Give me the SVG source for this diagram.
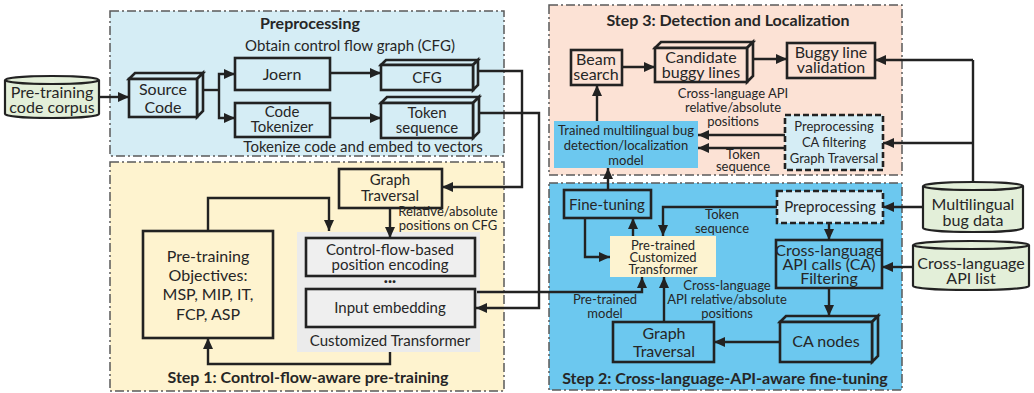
<svg xmlns="http://www.w3.org/2000/svg" width="1034" height="393" viewBox="0 0 1034 393">
  <style>
    text { font-family: Lato, "Open Sans", sans-serif; fill: #262626; text-anchor: middle; }
    .t16 { font-size: 16px; }
    .t15 { font-size: 15px; }
    .t13 { font-size: 13px; }
    .title { font-size: 16px; font-weight: bold; }
    .panel { stroke: #5a5a5a; stroke-width: 1.5; stroke-dasharray: 9 3 2 3; }
    .box { stroke: #222; stroke-width: 2.6; }
    .dash { stroke: #222; stroke-width: 2.6; stroke-dasharray: 6 3; fill: #d5edf5; }
    .cyl { fill: #e3efd9; stroke: #222; stroke-width: 2.2; }
    .wire { fill: none; stroke: #222; stroke-width: 2.4; }
    .arr { marker-end: url(#ah); }
  </style>
  <defs>
    <marker id="ah" markerUnits="userSpaceOnUse" markerWidth="12" markerHeight="10" refX="11" refY="5" orient="auto">
      <path d="M0,0 L11,5 L0,10 Z" fill="#222"/>
    </marker>
  </defs>

  <!-- panels -->
  <g id="panel-preprocessing">
    <rect class="panel" x="110" y="11" width="394" height="145" fill="#d5edf5"/>
    <text class="title" x="310" y="29">Preprocessing</text>
    <text class="t15" x="350" y="51">Obtain control flow graph (CFG)</text>
    <text class="t15" x="363" y="152">Tokenize code and embed to vectors</text>
  </g>
  <g id="panel-step1">
    <rect class="panel" x="110" y="162" width="394" height="229" fill="#fef3cf"/>
    <text class="title" x="308" y="383">Step 1:  Control-flow-aware pre-training</text>
  </g>
  <g id="panel-step3">
    <rect class="panel" x="549" y="5" width="353" height="170" fill="#fce2d5"/>
    <text class="title" x="728" y="26">Step 3: Detection and Localization</text>
  </g>
  <g id="panel-step2">
    <rect class="panel" x="549" y="183" width="353" height="207" fill="#6cc8ef"/>
    <text class="title" x="725" y="384">Step 2:  Cross-language-API-aware fine-tuning</text>
  </g>

  <!-- data sources -->
  <g id="pretraining-corpus">
    <path class="cyl" d="M5,80 L5,114 A47,4 0 0 0 99,114 L99,80"/>
    <ellipse class="cyl" cx="52" cy="80" rx="47" ry="4"/>
    <text class="t16" x="52" y="98">Pre-training</text>
    <text class="t16" x="52" y="113">code corpus</text>
  </g>
  <g id="multilingual-bug-data">
    <path class="cyl" d="M923,186 L923,228 A50,4 0 0 0 1023,228 L1023,186"/>
    <ellipse class="cyl" cx="973" cy="186" rx="50" ry="4"/>
    <text class="t16" x="973" y="210">Multilingual</text>
    <text class="t16" x="973" y="226">bug data</text>
  </g>
  <g id="cross-language-api-list">
    <path class="cyl" d="M913,245 L913,286 A58,4 0 0 0 1029,286 L1029,245"/>
    <ellipse class="cyl" cx="971" cy="245" rx="58" ry="4"/>
    <text class="t16" x="971" y="269">Cross-language</text>
    <text class="t16" x="971" y="284">API list</text>
  </g>

  <!-- preprocessing nodes -->
  <g id="source-code">
    <polygon class="box" fill="#d5edf5" points="129,79 135,73 203,73 197,79"/>
    <polygon class="box" fill="#d5edf5" points="197,79 203,73 203,111 197,117"/>
    <rect class="box" fill="#d5edf5" x="129" y="79" width="68" height="38"/>
    <text class="t16" x="163" y="95">Source</text>
    <text class="t16" x="163" y="113">Code</text>
  </g>
  <g id="joern">
    <rect class="box" fill="#d5edf5" x="235" y="58" width="95" height="32"/>
    <text class="t16" x="282" y="80">Joern</text>
  </g>
  <g id="code-tokenizer">
    <rect class="box" fill="#d5edf5" x="235" y="103" width="95" height="34"/>
    <text class="t15" x="282" y="117">Code</text>
    <text class="t15" x="282" y="132">Tokenizer</text>
  </g>
  <g id="cfg">
    <polygon class="box" fill="#d5edf5" points="381,65 386,60 478,60 473,65"/>
    <polygon class="box" fill="#d5edf5" points="473,65 478,60 478,85 473,90"/>
    <rect class="box" fill="#d5edf5" x="381" y="65" width="92" height="25"/>
    <text class="t15" x="427" y="83">CFG</text>
  </g>
  <g id="token-sequence">
    <polygon class="box" fill="#d5edf5" points="381,103 387,97 479,97 473,103"/>
    <polygon class="box" fill="#d5edf5" points="473,103 479,97 479,132 473,138"/>
    <rect class="box" fill="#d5edf5" x="381" y="103" width="92" height="35"/>
    <text class="t15" x="427" y="118">Token</text>
    <text class="t15" x="427" y="133">sequence</text>
  </g>

  <!-- step 1 nodes -->
  <g id="graph-traversal-1">
    <rect class="box" fill="#fef3cf" x="339" y="169" width="103" height="39"/>
    <text class="t15" x="390" y="185">Graph</text>
    <text class="t15" x="390" y="201">Traversal</text>
  </g>
  <g id="customized-transformer">
    <rect x="297" y="232" width="183" height="120" fill="#ebebeb"/>
    <rect class="box" fill="#efefef" x="306" y="238" width="169" height="38"/>
    <text class="t15" x="390" y="255">Control-flow-based</text>
    <text class="t15" x="390" y="270">position encoding</text>
    <text class="t15" x="390" y="286" font-weight="bold">···</text>
    <rect class="box" fill="#efefef" x="306" y="289" width="169" height="38"/>
    <text class="t15" x="390" y="313">Input embedding</text>
    <text class="t15" x="390" y="346">Customized Transformer</text>
  </g>
  <g id="pretraining-objectives">
    <rect class="box" fill="#fef3cf" x="143" y="231" width="130" height="107"/>
    <text class="t16" x="208" y="262">Pre-training</text>
    <text class="t16" x="208" y="281">Objectives:</text>
    <text class="t16" x="208" y="300">MSP, MIP, IT,</text>
    <text class="t16" x="208" y="320">FCP, ASP</text>
  </g>

  <!-- step 3 nodes -->
  <g id="beam-search">
    <rect class="box" fill="#fce2d5" x="571" y="50" width="51" height="35"/>
    <text class="t16" x="596" y="65">Beam</text>
    <text class="t16" x="596" y="80">search</text>
  </g>
  <g id="candidate-buggy-lines">
    <polygon class="box" fill="#fce2d5" points="655,48 661,42 753,42 747,48"/>
    <polygon class="box" fill="#fce2d5" points="747,48 753,42 753,76 747,82"/>
    <rect class="box" fill="#fce2d5" x="655" y="48" width="92" height="34"/>
    <text class="t16" x="701" y="63">Candidate</text>
    <text class="t16" x="701" y="78">buggy lines</text>
  </g>
  <g id="buggy-line-validation">
    <rect class="box" fill="#fce2d5" x="787" y="43" width="88" height="35"/>
    <text class="t16" x="831" y="58">Buggy line</text>
    <text class="t16" x="831" y="73">validation</text>
  </g>
  <g id="trained-model">
    <rect x="554" y="121" width="144" height="47" fill="#6cc8ef"/>
    <text class="t13" x="626" y="135">Trained multilingual bug</text>
    <text class="t13" x="626" y="150">detection/localization</text>
    <text class="t13" x="626" y="165">model</text>
  </g>
  <g id="preprocessing-3">
    <rect class="dash" x="785" y="115" width="98" height="55"/>
    <text class="t13" x="834" y="131">Preprocessing</text>
    <text class="t13" x="834" y="147">CA filtering</text>
    <text class="t13" x="834" y="163">Graph Traversal</text>
  </g>

  <!-- step 2 nodes -->
  <g id="fine-tuning">
    <rect class="box" fill="#6cc8ef" x="564" y="190" width="87" height="28"/>
    <text class="t15" x="607" y="210">Fine-tuning</text>
  </g>
  <g id="preprocessing-2">
    <rect class="dash" x="777" y="191" width="106" height="32"/>
    <text class="t15" x="830" y="212">Preprocessing</text>
  </g>
  <g id="pretrained-transformer">
    <rect x="610" y="236" width="106" height="41" fill="#fdf3d0"/>
    <text class="t13" x="663" y="250">Pre-trained</text>
    <text class="t13" x="663" y="262">Customized</text>
    <text class="t13" x="663" y="274">Transformer</text>
  </g>
  <g id="ca-filtering">
    <rect class="box" fill="#6cc8ef" x="776" y="240" width="106" height="48"/>
    <text class="t16" x="829" y="256">Cross-language</text>
    <text class="t16" x="829" y="270">API calls (CA)</text>
    <text class="t16" x="829" y="284">Filtering</text>
  </g>
  <g id="ca-nodes">
    <polygon class="box" fill="#6cc8ef" points="780,322 786,316 878,316 872,322"/>
    <polygon class="box" fill="#6cc8ef" points="872,322 878,316 878,356 872,362"/>
    <rect class="box" fill="#6cc8ef" x="780" y="322" width="92" height="40"/>
    <text class="t16" x="826" y="347">CA nodes</text>
  </g>
  <g id="graph-traversal-2">
    <rect class="box" fill="#6cc8ef" x="613" y="322" width="101" height="40"/>
    <text class="t16" x="664" y="339">Graph</text>
    <text class="t16" x="664" y="357">Traversal</text>
  </g>

  <!-- connectors -->
  <g id="connectors">
    <line class="wire arr" x1="99" y1="97" x2="129" y2="97"/>
    <polyline class="wire" points="203,90 219,90"/>
    <polyline class="wire arr" points="219,90 219,74 235,74"/>
    <polyline class="wire arr" points="219,90 219,118 235,118"/>
    <line class="wire arr" x1="330" y1="73" x2="381" y2="73"/>
    <line class="wire arr" x1="330" y1="118" x2="381" y2="118"/>
    <polyline class="wire arr" points="478,71 522,71 522,187 442,187"/>
    <polyline class="wire arr" points="479,113 539,113 539,308 476,308"/>
    <line class="wire arr" x1="390" y1="208" x2="390" y2="238"/>
    <polyline class="wire arr" points="208,231 208,198 329,198 329,231"/>
    <polyline class="wire arr" points="390,352 390,364 208,364 208,338"/>
    <polyline class="wire arr" points="477,292 642,292 642,277"/>

    <line class="wire arr" x1="622" y1="67" x2="655" y2="67"/>
    <line class="wire arr" x1="753" y1="59" x2="787" y2="59"/>
    <line class="wire arr" x1="597" y1="121" x2="597" y2="85"/>
    <line class="wire arr" x1="785" y1="135" x2="698" y2="135"/>
    <line class="wire arr" x1="785" y1="148" x2="698" y2="148"/>
    <polyline class="wire" points="973,182 973,60"/>
    <line class="wire arr" x1="973" y1="60" x2="875" y2="60"/>
    <line class="wire arr" x1="973" y1="143" x2="883" y2="143"/>

    <line class="wire arr" x1="608" y1="190" x2="608" y2="168"/>
    <line class="wire arr" x1="633" y1="236" x2="633" y2="218"/>
    <polyline class="wire arr" points="585,218 585,257 610,257"/>
    <polyline class="wire arr" points="777,207 663,207 663,236"/>
    <line class="wire arr" x1="829" y1="223" x2="829" y2="240"/>
    <line class="wire arr" x1="829" y1="288" x2="829" y2="316"/>
    <line class="wire arr" x1="780" y1="342" x2="714" y2="342"/>
    <line class="wire arr" x1="664" y1="322" x2="664" y2="277"/>
    <line class="wire arr" x1="923" y1="207" x2="883" y2="207"/>
    <line class="wire arr" x1="913" y1="267" x2="882" y2="267"/>
  </g>

  <!-- connector labels -->
  <g id="labels">
    <text class="t13" x="448" y="216">Relative/absolute</text>
    <text class="t13" x="448" y="230">positions on CFG</text>
    <text class="t13" x="733" y="98">Cross-language API</text>
    <text class="t13" x="733" y="112">relative/absolute</text>
    <text class="t13" x="733" y="126">positions</text>
    <text class="t13" x="743" y="159">Token</text>
    <text class="t13" x="743" y="171">sequence</text>
    <text class="t13" x="722" y="219">Token</text>
    <text class="t13" x="722" y="233">sequence</text>
    <text class="t13" x="727" y="290">Cross-language</text>
    <text class="t13" x="727" y="304">API relative/absolute</text>
    <text class="t13" x="727" y="318">positions</text>
    <text class="t13" x="605" y="304">Pre-trained</text>
    <text class="t13" x="605" y="318">model</text>
  </g>
</svg>
